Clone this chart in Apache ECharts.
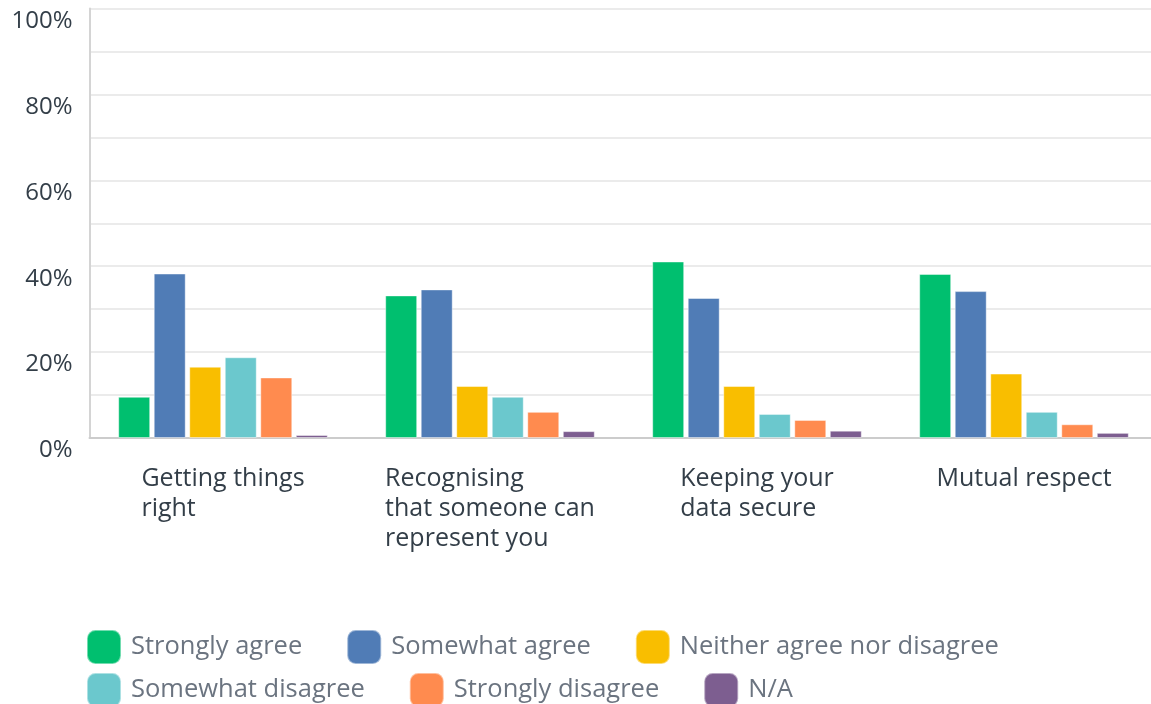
<!DOCTYPE html>
<html><head><meta charset="utf-8">
<script src="https://cdn.jsdelivr.net/npm/echarts@6/dist/echarts.min.js"></script>
<style>html,body{margin:0;padding:0;background:#fff}#c{width:1151px;height:704px}</style>
</head><body><div id="c"></div>
<script>
const categories = ["Getting things\nright", "Recognising\nthat someone can\nrepresent you", "Keeping your\ndata secure", "Mutual respect"];
const seriesNames = ["Strongly agree", "Somewhat agree", "Neither agree nor disagree", "Somewhat disagree", "Strongly disagree", "N/A"];
const stronglyAgree = [9.6, 33.2, 41.1, 38.2];
const somewhatAgree = [38.3, 34.6, 32.6, 34.2];
const neither = [16.6, 12.1, 12.1, 15.0];
const somewhatDisagree = [18.8, 9.6, 5.6, 6.1];
const stronglyDisagree = [14.1, 6.1, 4.2, 3.2];
const na = [0.7, 1.6, 1.7, 1.2];
const yTickLabels = ["0%", "20%", "40%", "60%", "80%", "100%"];
const colors = ["#00bf6f", "#507cb6", "#f9be00", "#6bc8cd", "#ff8b4f", "#7d5e90"];
const values = [stronglyAgree, somewhatAgree, neither, somewhatDisagree, stronglyDisagree, na];

const FONT = "Open Sans";
const chart = echarts.init(document.getElementById('c'), null, {renderer: 'canvas'});
const legendBase = {
  orient: 'horizontal', left: 86, itemWidth: 34, itemHeight: 34, itemGap: 44, padding: 0,
  icon: 'roundRect',
  textStyle: {fontFamily: FONT, fontSize: 25.5, color: '#6b7480', padding: [0, 0, 0, 5]}
};
chart.setOption({
  animation: false,
  color: colors,
  grid: {left: 89.5, width: 1068, top: 8.5, height: 429.5, containLabel: false, outerBoundsMode: 'none'},
  legend: [
    Object.assign({}, legendBase, {top: 629, data: seriesNames.slice(0, 3)}),
    Object.assign({}, legendBase, {top: 672, data: seriesNames.slice(3)})
  ],
  xAxis: {
    type: 'category', data: categories,
    axisLine: {show: true, lineStyle: {color: '#cccccc', width: 2}},
    axisTick: {show: false},
    axisLabel: {
      margin: 26, interval: 0, align: 'center',
      formatter: v => v.split('\n').map(s => '{l|' + s + '}').join('\n'),
      rich: {l: {align: 'left', fontFamily: FONT, fontSize: 25, lineHeight: 30, color: '#333e48'}}
    }
  },
  yAxis: {
    type: 'value', min: 0, max: 100, interval: 10,
    axisLine: {show: true, lineStyle: {color: '#d4d4d4', width: 2}},
    axisTick: {show: false},
    splitLine: {lineStyle: {color: '#ebebeb', width: 2}},
    axisLabel: {
      margin: 17, fontFamily: FONT, fontSize: 24, color: '#333e48',
      verticalAlign: 'top', lineHeight: 25,
      formatter: v => (v % 20 === 0 ? yTickLabels[v / 20] : '')
    }
  },
  series: seriesNames.map((n, i) => ({
    name: n, type: 'bar', data: values[i], barWidth: 32, barGap: '11%',
    itemStyle: {color: colors[i], borderColor: 'rgba(255,255,255,0.45)', borderWidth: 1}
  }))
});
</script></body></html>
